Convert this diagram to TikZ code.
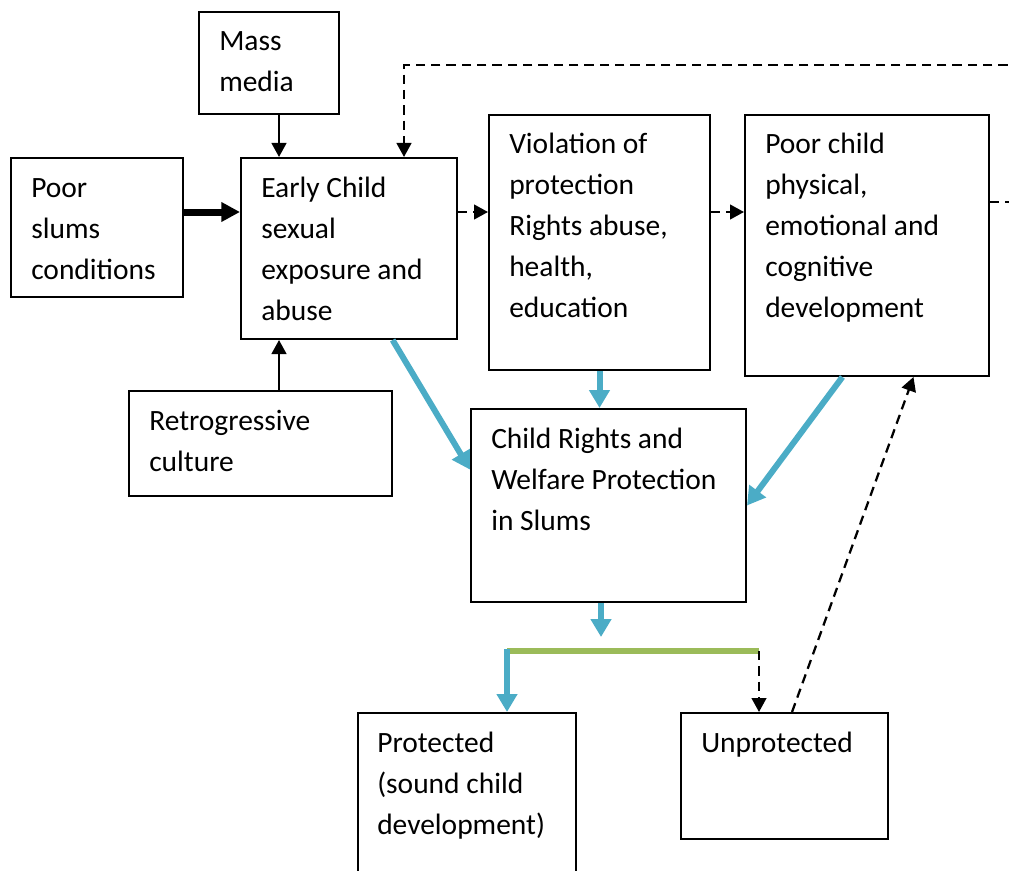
\documentclass[tikz,border=0pt]{standalone}
\usepackage{fontspec}
\setmainfont{Carlito}
\usetikzlibrary{arrows.meta,calc,fit}
\definecolor{cblue}{HTML}{4BACC6}
\definecolor{cgreen}{HTML}{9BBB59}
\begin{document}
\begin{tikzpicture}[x=0.75pt,y=-0.75pt,
  box/.style={draw=black, line width=1.5pt, inner sep=0pt},
  txt/.style={inner sep=0pt, anchor=base west, font=\fontsize{22.1}{30.75}\selectfont},
  arr/.style={line width=1.7pt, -{Triangle[length=10.5pt,width=11pt]}},
  darr/.style={arr, dash pattern=on 7pt off 4.5pt},
  fatarr/.style={line width=5.25pt, -{Triangle[length=14pt,width=14pt]}},
  barr/.style={draw=cblue, line width=4.5pt, -{Triangle[length=13.5pt,width=15pt]}},
  gline/.style={draw=cgreen, line width=4pt}
]
\useasboundingbox (0,0) rectangle (1009,870);

% boxes
\node[box, fit={(199,12) (339,114)}] (media) {};
\node[box, fit={(11,158) (183,297)}] (slums) {};
\node[box, fit={(241,158) (457,339)}] (early) {};
\node[box, fit={(489,115) (710,370)}] (viol) {};
\node[box, fit={(745,115) (989,376)}] (poor) {};
\node[box, fit={(129,391) (392,496)}] (retro) {};
\node[box, fit={(471,409) (746,602)}] (rights) {};
\node[box, fit={(358,713) (576,900)}] (prot) {};
\node[box, fit={(681,713) (888,839)}] (unprot) {};

% texts
\node[txt] (media-t) at ($(media.north west)+(21,40)$) {\parbox[t]{200pt}{Mass\\media}};
\node[txt] (slums-t) at ($(slums.north west)+(21,40)$) {\parbox[t]{200pt}{Poor\\slums\\conditions}};
\node[txt] (early-t) at ($(early.north west)+(21,40)$) {\parbox[t]{200pt}{Early Child\\sexual\\exposure and\\abuse}};
\node[txt] (viol-t) at ($(viol.north west)+(21,39.5)$) {\parbox[t]{200pt}{Violation of\\protection\\Rights abuse,\\health,\\education}};
\node[txt] (poor-t) at ($(poor.north west)+(21,39.5)$) {\parbox[t]{200pt}{Poor child\\physical,\\emotional and\\cognitive\\development}};
\node[txt] (retro-t) at ($(retro.north west)+(21,40)$) {\parbox[t]{200pt}{Retrogressive\\culture}};
\node[txt] (rights-t) at ($(rights.north west)+(21,40)$) {\parbox[t]{250pt}{Child Rights and\\Welfare Protection\\in Slums}};
\node[txt] (prot-t) at ($(prot.north west)+(20,40)$) {\parbox[t]{200pt}{Protected\\(sound child\\development)}};
\node[txt] (unprot-t) at ($(unprot.north west)+(21,40)$) {\parbox[t]{200pt}{Unprotected}};

% helper coordinates
\coordinate (cx) at (279,0);
\coordinate (cy) at (0,212);
\coordinate (loopR) at (1030,202);
\coordinate (loopT) at (1030,65);
\coordinate (loopL) at (404,65);
\coordinate (tipc) at (601,637);
\coordinate (gL) at (507,651);
\coordinate (gR) at (759,651);

% black connectors
\draw[arr] (cx |- media.south) -- (cx |- early.north);
\draw[arr] (cx |- retro.north) -- (cx |- early.south);
\draw[fatarr] (cy -| slums.east) -- (cy -| early.west);
\draw[darr] (cy -| early.east) -- (cy -| viol.west);
\draw[darr] (cy -| viol.east) -- (cy -| poor.west);
\draw[darr] (loopR -| poor.east) -- (loopR) -- (loopT) -- (loopL) -- (loopL |- early.north);

% blue connectors
\draw[barr] ($(early.south west)!0.70!(early.south east)$) -- ($(rights.north west)!0.316!(rights.south west)$);
\draw[barr] (viol.south) -- (viol.south |- rights.north);
\draw[barr] ($(poor.south west)!0.40!(poor.south east)$) -- (rights.east);
\draw[barr] (tipc |- rights.south) -- (tipc);

% split
\draw[gline] (gL) -- (gR);
\draw[barr] ([yshift=1.5pt]gL) -- (gL |- prot.north);
\draw[darr] (gR) -- (gR |- unprot.north);
\draw[darr] ($(unprot.north west)!0.536!(unprot.north east)$) -- ($(poor.south west)!0.689!(poor.south east)$);
\end{tikzpicture}
\end{document}
